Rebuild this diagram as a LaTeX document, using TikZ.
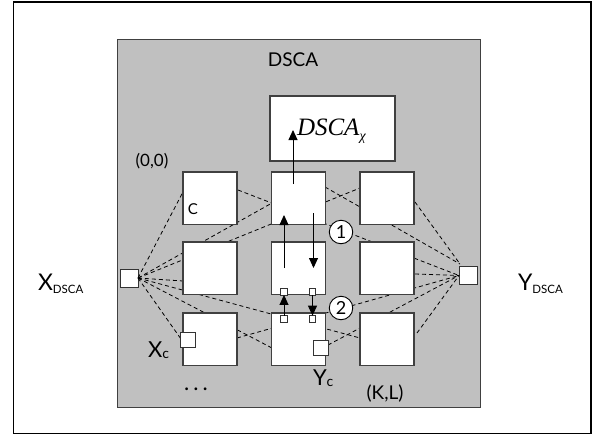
\documentclass[tikz,border=0pt]{standalone}
\usepackage{fontspec}
\setmainfont{Lato}
\newfontfamily\tms{Liberation Serif}
\usetikzlibrary{arrows.meta}
\definecolor{graybg}{HTML}{C0C0C0}
\begin{document}
\begin{tikzpicture}[x=1pt,y=-1pt,
  box/.style={draw=black!75, line width=1.1pt, fill=white, inner sep=0, outer sep=0, anchor=north west},
  cellbox/.style={box, minimum width=54pt, minimum height=52.5pt},
  conn/.style={dash pattern=on 4pt off 3pt, line width=0.8pt},
  arr/.style={-{Triangle[length=10pt,width=9pt]}, line width=0.9pt},
  port/.style={draw=black!80, line width=0.8pt, fill=white, inner sep=0, outer sep=0, minimum size=#1},
  lbl/.style={inner sep=0, outer sep=0},
  num/.style={circle, draw, line width=0.9pt, fill=white, minimum size=23.5pt, inner sep=0, font=\fontsize{18}{18}\selectfont}
]
\useasboundingbox (0,0) rectangle (593,436);
% frame and DSCA box
\node[draw, line width=1.6pt, minimum width=577.5pt, minimum height=431pt, anchor=north west, inner sep=0] (frame) at (12.5,1.5) {};
\node[draw=black!75, fill=graybg, line width=1.2pt, minimum width=363.5pt, minimum height=368pt, anchor=north west, inner sep=0] (dsca) at (116.5,39) {};
% ports to the outside
\node[port=18pt] (xd) at (129,278) {};
\node[port=18pt] (yd) at (468,275.5) {};
% coordinates of the dashed connectors
\coordinate (i00) at (184,190);
\coordinate (i01) at (272,203);
\coordinate (i02) at (360,188);
\coordinate (i10) at (183,281);
\coordinate (i22) at (360,338);
\coordinate (i21) at (272,348);
\coordinate (ixc) at (181,339);
\coordinate (o00) at (238,190);
\coordinate (o20) at (237,338);
\coordinate (o01) at (325,187);
\coordinate (o02) at (415,202);
\coordinate (o12) at (415,274);
\coordinate (o22) at (417,333);
\coordinate (oyc) at (328,345);
\coordinate (yup) at (460,264);
\foreach \t in {i00,i01,i02,i10,i22,i21,ixc}
  \draw[conn] (xd.east) -- (\t);
\foreach \s in {o00,o20,o12,o22,oyc}
  \draw[conn] (\s) -- (yd.west);
\draw[conn] (o01) -- (yup);
\draw[conn] (o02) -- (yup);
% cells
\node[cellbox] (c00) at (183,172) {};
\node[cellbox] (c01) at (271.5,172) {};
\node[cellbox] (c02) at (360,172) {};
\node[cellbox] (c10) at (183,242) {};
\node[cellbox] (c11) at (271.5,242) {};
\node[cellbox] (c12) at (360,242) {};
\node[cellbox] (c20) at (183,313) {};
\node[cellbox] (c21) at (271.5,313) {};
\node[cellbox] (c22) at (360,313) {};
\node[box, minimum width=125pt, minimum height=65pt] (dx) at (270,96) {};
% cell ports
\node[port=15pt] (xc) at (187.5,339.5) {};
\node[port=15pt] (yc) at (320.5,348) {};
\node[port=6.7pt] (s1) at (284,291.6) {};
\node[port=6.7pt] (s2) at (312.5,291.6) {};
\node[port=6.7pt] (s3) at (284,319) {};
\node[port=6.7pt] (s4) at (312.5,319) {};
% numbered circles
\node[num] (n1) at (341,232) {1};
\node[num] (n2) at (341,308) {2};
% arrows
\coordinate (a1s) at (293,184);
\coordinate (a1e) at (293,130);
\coordinate (a2s) at (284,268);
\coordinate (a2e) at (284,215);
\coordinate (a3s) at (313.5,213);
\coordinate (a3e) at (313.5,268);
\draw[arr] (a1s) -- (a1e);
\draw[arr] (a2s) -- (a2e);
\draw[arr] (a3s) -- (a3e);
\draw[arr] (s3.north) -- (s1.south);
\draw[arr] (s2.south) -- (s4.north);
% labels
\node[lbl, anchor=base, font=\fontsize{19}{19}\selectfont] (tdsca) at (293,66) {DSCA};
\node[lbl, anchor=base west, font=\fontsize{25}{25}\selectfont] (tdx) at (297,135) {\tms\itshape DSCA\raisebox{-5pt}{\fontsize{14}{14}\selectfont χ}};
\node[lbl, anchor=base, font=\fontsize{17}{17}\selectfont] (t00) at (152,166) {(0,0)};
\node[lbl, anchor=base, font=\fontsize{15}{15}\selectfont] (tc) at (193,214) {C};
\node[lbl, anchor=base west, font=\fontsize{23}{23}\selectfont] (txd) at (38,290) {X\raisebox{-3pt}{\fontsize{11.5}{12}\selectfont DSCA}};
\node[lbl, anchor=base west, font=\fontsize{23}{23}\selectfont] (tyd) at (518,290) {Y\raisebox{-3pt}{\fontsize{11.5}{12}\selectfont DSCA}};
\node[lbl, anchor=base west, font=\fontsize{22}{22}\selectfont] (txc) at (148,357) {X\raisebox{-1pt}{\fontsize{14}{14}\selectfont c}};
\node[lbl, anchor=base west, font=\fontsize{22}{22}\selectfont] (tyc) at (313,385) {Y\raisebox{-1pt}{\fontsize{14}{14}\selectfont c}};
\node[lbl, anchor=base, font=\fontsize{22}{22}\selectfont] (tdots) at (196,390) {.\hspace{4pt}.\hspace{4pt}.};
\node[lbl, anchor=base, font=\fontsize{19}{19}\selectfont] (tkl) at (385,399) {(K,L)};
\end{tikzpicture}
\end{document}
